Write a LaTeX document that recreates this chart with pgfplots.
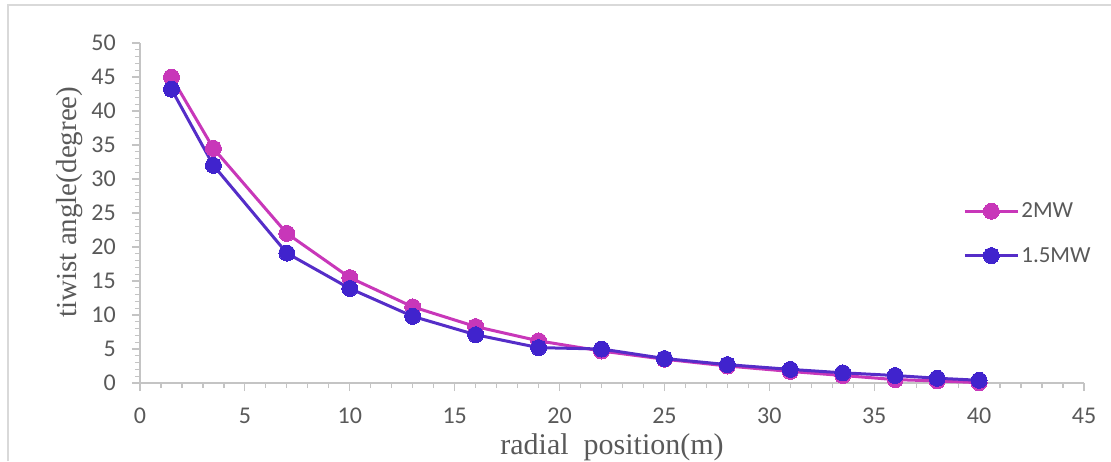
\documentclass[border=0pt]{standalone}
\usepackage{fontspec}
\setmainfont{Carlito}
\newfontfamily\serifL{Liberation Serif}
\usepackage{pgfplots}
\pgfplotsset{compat=1.18}
\definecolor{mag}{RGB}{200,55,185}
\definecolor{blu}{RGB}{64,35,205}
\definecolor{bluline}{RGB}{85,45,200}
\definecolor{axgray}{RGB}{196,196,196}
\definecolor{txtgray}{RGB}{89,89,89}
\definecolor{framegray}{RGB}{217,217,217}
\begin{document}
\begin{tikzpicture}[x=1pt,y=1pt]
\path[use as bounding box] (0,0) rectangle (1111,461);
\draw[framegray, line width=1.5pt] (8,0) -- (8,456) -- (1111,456);
\begin{axis}[
  at={(140pt,78pt)}, anchor=south west, scale only axis,
  width=944pt, height=340pt,
  xmin=0, xmax=45, ymin=0, ymax=50,
  axis lines*=left,
  axis line style={axgray, line width=1.5pt, -},
  xtick={0,5,...,45}, ytick={0,5,...,50},
  minor x tick num=4, minor y tick num=4,
  tick align=outside,
  major tick length=8pt, minor tick length=5pt,
  tick style={axgray, line width=1.2pt},
  ticklabel style={font=\fontsize{24}{24}\selectfont, text=txtgray, inner sep=0pt},
  xticklabel style={yshift=-17pt},
  yticklabel style={xshift=-16pt},
  /pgf/number format/assume math mode=true,
  clip=false,
  legend style={draw=none, fill=none, at={(rel axis cs:0.872,0.44)}, anchor=west, inner sep=0pt,
    row sep=24pt, font=\fontsize{23}{23}\selectfont, text=txtgray, cells={anchor=west}},
  legend image code/.code={\draw[mark repeat=2, mark phase=2, #1] plot coordinates {(0pt,0pt) (26.5pt,0pt) (53pt,0pt)};},
]
\addplot[color=mag, line width=3pt, mark=*, mark size=8pt, mark options={fill=mag, draw=mag, line width=0pt}] coordinates {
(1.5,45) (3.5,34.5) (7,22) (10,15.5) (13,11.2) (16,8.3) (19,6.2) (22,4.7) (25,3.5) (28,2.5) (31,1.7) (33.5,1.1) (36,0.5) (38,0.3) (40,0.05)
};
\addlegendentry{2MW}
\addplot[color=bluline, line width=3pt, mark=*, mark size=8pt, mark options={fill=blu, draw=blu, line width=0pt}] coordinates {
(1.5,43.2) (3.5,32) (7,19.1) (10,13.9) (13,9.8) (16,7.1) (19,5.2) (22,5.0) (25,3.6) (28,2.7) (31,2.0) (33.5,1.5) (36,1.1) (38,0.7) (40,0.4)
};
\addlegendentry{1.5MW}
\node[font=\serifL\fontsize{30}{30}\selectfont, text=txtgray, anchor=base, inner sep=0pt] at ([yshift=-71pt]rel axis cs:0.5,0) {radial\ \ position(m)};
\node[rotate=90, font=\serifL\fontsize{29}{29}\selectfont, text=txtgray, anchor=center, inner sep=0pt] at ([xshift=-70pt]rel axis cs:0,0.532) {tiwist angle(degree)};
\end{axis}
\end{tikzpicture}
\end{document}
